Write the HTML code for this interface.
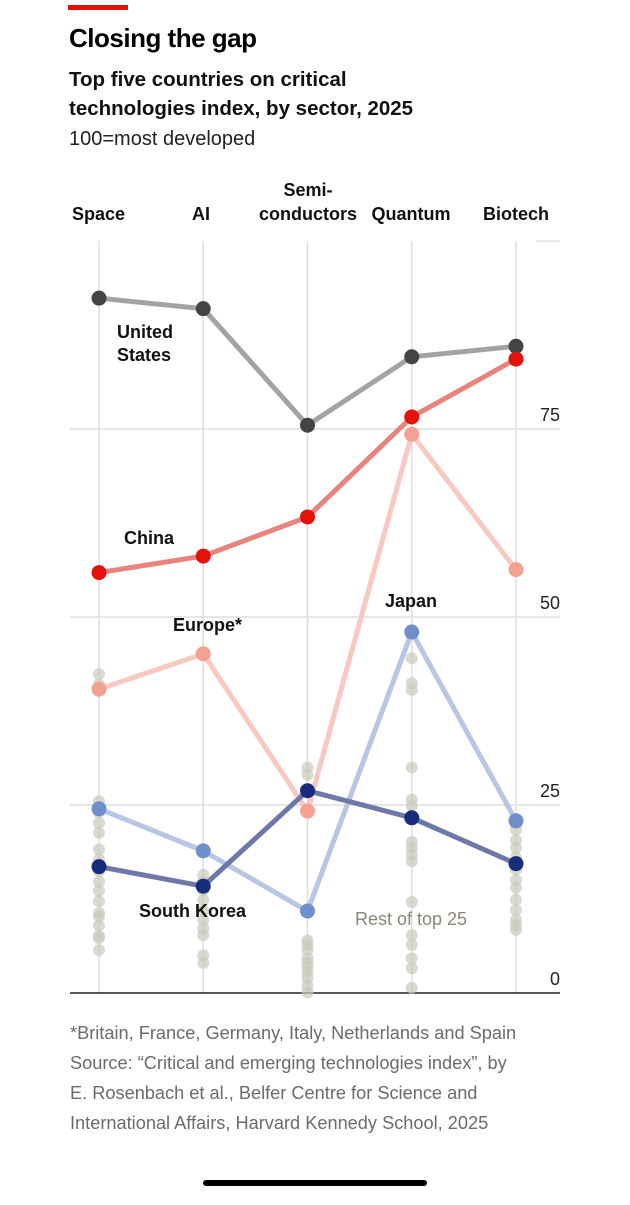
<!DOCTYPE html>
<html><head><meta charset="utf-8"><style>
body{margin:0;background:#fff;width:630px;height:1200px;overflow:hidden;font-family:"Liberation Sans",Arial,sans-serif}
</style></head><body>
<svg width="630" height="1200">
<rect x="68" y="5" width="60" height="5" fill="#e3120b"/>
<text x="69" y="47" font-size="26" font-weight="bold" fill="#000" style="letter-spacing:-0.5px">Closing the gap</text>
<text x="69" y="86" font-size="20.5" font-weight="bold" fill="#111">Top five countries on critical</text>
<text x="69" y="115" font-size="20.5" font-weight="bold" fill="#111">technologies index, by sector, 2025</text>
<text x="69" y="145" font-size="20" fill="#222">100=most developed</text>
<g id="grid"></g>
<g id="rest"></g>
<g id="lines"></g>
<g id="labels" font-size="18" font-weight="bold" fill="#111">
<text x="72" y="220">Space</text>
<text x="192" y="220">AI</text>
<text x="308" y="196" text-anchor="middle">Semi-</text>
<text x="308" y="220" text-anchor="middle">conductors</text>
<text x="411" y="220" text-anchor="middle">Quantum</text>
<text x="516" y="220" text-anchor="middle">Biotech</text>
<text x="117" y="338">United</text>
<text x="117" y="361">States</text>
<text x="124" y="544">China</text>
<text x="173" y="631">Europe*</text>
<text x="385" y="607">Japan</text>
<text x="139" y="917">South Korea</text>
<text x="355" y="925" font-weight="normal" fill="#8a8574">Rest of top 25</text>
</g>
<g font-size="18.2" fill="#6b6b6b">
<text x="70" y="1039">*Britain, France, Germany, Italy, Netherlands and Spain</text>
<text x="70" y="1069">Source: “Critical and emerging technologies index”, by</text>
<text x="70" y="1099">E. Rosenbach et al., Belfer Centre for Science and</text>
<text x="70" y="1129">International Affairs, Harvard Kennedy School, 2025</text>
</g>
<rect x="203" y="1180" width="224" height="6" rx="3" fill="#000"/>
</svg>
<script>
const sectors=["Space","AI","Semiconductors","Quantum","Biotech"];
const yTicks=[0,25,50,75];
const usValues=[92.4,91,75.5,84.6,86];
const chinaValues=[55.9,58.1,63.3,76.6,84.3];
const europeValues=[40.4,45.1,24.2,74.3,56.3];
const japanValues=[24.5,18.9,10.9,48,22.9];
const koreaValues=[16.8,14.2,26.9,23.3,17.2];
const restSpace=[42.4,41,25.5,24,22.6,21.3,19.1,17.8,16.2,14.8,13.6,12.2,10.6,10.2,9,7.6,7.3,5.7];
const restAI=[15.7,14.8,13.7,12.4,11,9.7,8.6,7.7,5,4];
const restSemi=[30,29,7,6.4,5.7,4.6,4,3.4,2.8,2,1,0.1];
const restQuantum=[44.5,41.2,40.3,30,25.7,24.9,20.1,19.3,18.4,17.5,12.1,7.7,6.4,4.6,3.3,0.7];
const restBiotech=[22.6,21.7,20.3,19.3,18,16.4,15,14,12.4,11,9.7,9,8.4];
const NS="http://www.w3.org/2000/svg";
const xS=i=>99+i*104.25;
const yS=v=>993-v*7.52;
function mk(t,a,p){const e=document.createElementNS(NS,t);for(const k in a)e.setAttribute(k,a[k]);p.appendChild(e);return e;}
const grid=document.getElementById('grid');
sectors.forEach((s,i)=>{
 const l=mk('line',{x1:xS(i),x2:xS(i),y1:yS(100),y2:yS(0),stroke:'#dedede','stroke-width':1.5},grid);
 
 
});
mk('line',{x1:536,x2:560,y1:yS(100),y2:yS(100),stroke:'#dedede','stroke-width':1.5},grid);
yTicks.forEach(v=>{
 if(v>0){const l=mk('line',{x1:70,x2:560,y1:yS(v),y2:yS(v),stroke:'#dedede','stroke-width':1.5},grid);
 
 }
 const t=mk('text',{x:560,y:yS(v)-8,'text-anchor':'end','font-size':18,fill:'#222'},grid);
 t.textContent=v;
 
 
});
const ax=mk('line',{x1:70,x2:560,y1:yS(0),y2:yS(0),stroke:'#222','stroke-width':1.5},grid);


const rest=document.getElementById('rest');
[restSpace,restAI,restSemi,restQuantum,restBiotech].forEach((arr,i)=>arr.forEach(v=>{
 const c=mk('circle',{cx:xS(i),cy:yS(v),r:6,fill:'#c9c9bb','fill-opacity':0.7},rest);
 
 
}));
const series=[
 ['united-states',usValues,'#a3a3a3','#444'],
 ['china',chinaValues,'#e8837d','#e3120b'],
 ['europe',europeValues,'#f9c9c1','#f5a191'],
 ['japan',japanValues,'#b7c6e3','#6f8fcb'],
 ['south-korea',koreaValues,'#6d78a8','#182c7c']];
const lg=document.getElementById('lines');
series.forEach(([n,vals,lc,dc])=>{
 const p=mk('polyline',{points:vals.map((v,i)=>xS(i)+','+yS(v)).join(' '),fill:'none',stroke:lc,'stroke-width':5,'stroke-linejoin':'round'},lg);
 
 
});
series.forEach(([n,vals,lc,dc])=>{
 vals.forEach((v,i)=>{
  const c=mk('circle',{cx:xS(i),cy:yS(v),r:7.5,fill:dc},lg);
  
  
 });
});
</script>
</body></html>
